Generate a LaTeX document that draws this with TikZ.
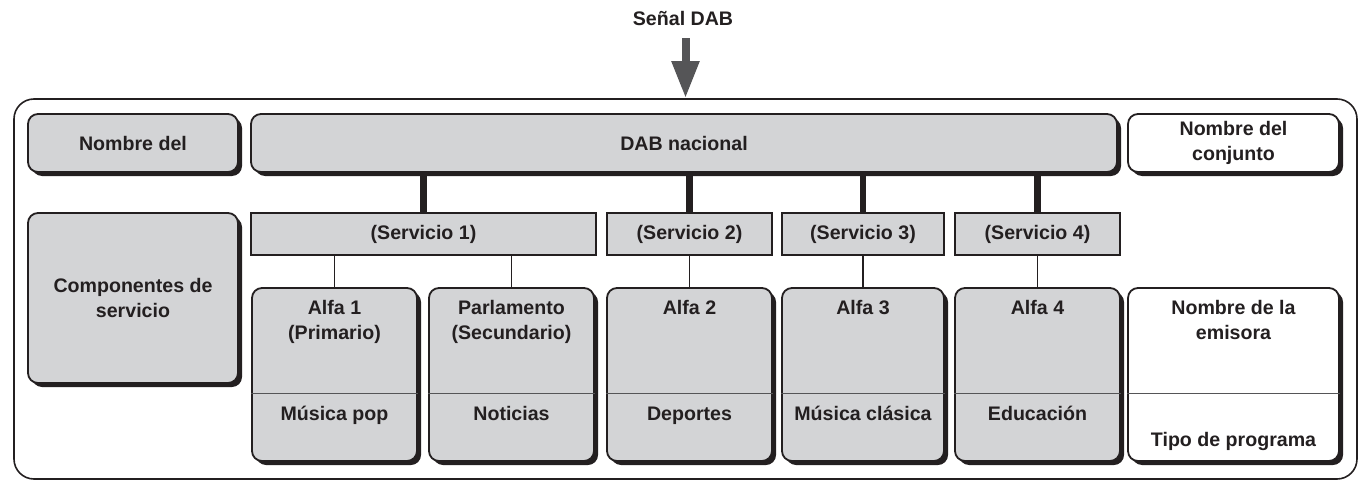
\documentclass[tikz,border=0pt]{standalone}
\usepackage{fontspec}
\setmainfont{Liberation Sans}
\usepackage{tikz}
\usetikzlibrary{shapes.geometric,arrows.meta,positioning,shadows}
\definecolor{boxgray}{RGB}{211,212,214}
\definecolor{arrowgray}{RGB}{85,85,87}
\definecolor{inkgray}{RGB}{35,31,32}

\begin{document}
\begin{tikzpicture}[x=0.5pt, y=-0.5pt, font=\bfseries\fontsize{9.8}{12.5}\selectfont, text=inkgray]
\tikzstyle{outerbox} = [rectangle, rounded corners=10pt, draw=inkgray, line width=0.8pt, minimum width=671.5pt, minimum height=190pt]
\tikzstyle{graybox} = [rectangle, rounded corners=5pt, draw=inkgray, line width=0.9pt, fill=boxgray, align=center, drop shadow={shadow xshift=2pt, shadow yshift=-2pt, fill=inkgray, opacity=1}]
\tikzstyle{whitebox} = [graybox, fill=white]
\tikzstyle{servbox} = [rectangle, draw=inkgray, line width=0.9pt, fill=boxgray, minimum height=21pt]
\tikzstyle{txt} = [inner sep=0pt, align=center]
\tikzstyle{trunk} = [line width=3.2pt, draw=inkgray]
\tikzstyle{branch} = [line width=0.9pt, draw=inkgray]
\tikzstyle{divider} = [line width=0.6pt, draw=arrowgray]
\tikzstyle{sigarrow} = [line width=4pt, draw=arrowgray, -{Triangle[length=18.5pt, width=13pt]}]

\useasboundingbox (0,0) rectangle (1359,481);

% frame and incoming signal
\node (frame) [outerbox] at (685.5,289) {};
\node (signal) at (683,18) {Señal DAB};
\draw [sigarrow, shorten <=3pt] (frame.north |- signal.south) -- (frame.north);

% top row
\node (nomdel) [graybox, minimum width=105pt, minimum height=29pt] at (133,143) {Nombre del};
\node (dabnac) [graybox, minimum width=433pt, minimum height=29pt] at (684,143) {DAB nacional};
\node (conj) [whitebox, minimum width=105.5pt, minimum height=29pt] at (1233.5,143) {Nombre del\\conjunto};

% services
\node (comp) [graybox, minimum width=105pt, minimum height=85pt] at (133,298) {Componentes de\\servicio};
\node (serv1) [servbox, minimum width=172.5pt] at (423.5,234) {(Servicio 1)};
\node (serv2) [servbox, minimum width=82.5pt] at (689.5,234) {(Servicio 2)};
\node (serv3) [servbox, minimum width=81pt] at (863,234) {(Servicio 3)};
\node (serv4) [servbox, minimum width=82.5pt] at (1037.5,234) {(Servicio 4)};

\foreach \s in {serv1,serv2,serv3,serv4}
  \draw [trunk] (\s.north) -- (\s.north |- dabnac.south);

% service components
\node (alfa1) [graybox, minimum width=82.5pt, minimum height=86.5pt] at (334.5,374.5) {};
\node (parl) [graybox, minimum width=82.5pt, minimum height=86.5pt] at (511.5,374.5) {};
\node (alfa2) [graybox, minimum width=82.5pt, minimum height=86.5pt] at (689.5,374.5) {};
\node (alfa3) [graybox, minimum width=81pt, minimum height=86.5pt] at (863,374.5) {};
\node (alfa4) [graybox, minimum width=82.5pt, minimum height=86.5pt] at (1037.5,374.5) {};
\node (emis) [whitebox, minimum width=105.5pt, minimum height=86.5pt] at (1233.5,374.5) {};

\draw [branch] (alfa1.north) -- (alfa1.north |- serv1.south);
\draw [branch] (parl.north) -- (parl.north |- serv1.south);
\draw [branch] (alfa2.north) -- (alfa2.north |- serv2.south);
\draw [branch] (alfa3.north) -- (alfa3.north |- serv3.south);
\draw [branch] (alfa4.north) -- (alfa4.north |- serv4.south);

\foreach \b in {alfa1,parl,alfa2,alfa3,alfa4,emis}
  \draw [divider] ([yshift=-53pt]\b.north west) -- ([yshift=-53pt]\b.north east);

\node (alfa1top) [txt, below=6.5pt of alfa1.north] {Alfa 1\\(Primario)};
\node (parltop) [txt, below=6.5pt of parl.north] {Parlamento\\(Secundario)};
\node (alfa2top) [txt, below=6.5pt of alfa2.north] {Alfa 2};
\node (alfa3top) [txt, below=6.5pt of alfa3.north] {Alfa 3};
\node (alfa4top) [txt, below=6.5pt of alfa4.north] {Alfa 4};
\node (emistop) [txt, below=6.5pt of emis.north] {Nombre de la\\emisora};

\node (alfa1bot) [txt, anchor=base] at ([yshift=-66.5pt]alfa1.north) {Música pop};
\node (parlbot) [txt, anchor=base] at ([yshift=-66.5pt]parl.north) {Noticias};
\node (alfa2bot) [txt, anchor=base] at ([yshift=-66.5pt]alfa2.north) {Deportes};
\node (alfa3bot) [txt, anchor=base] at ([yshift=-66.5pt]alfa3.north) {Música clásica};
\node (alfa4bot) [txt, anchor=base] at ([yshift=-66.5pt]alfa4.north) {Educación};
\node (emisbot) [txt, anchor=base] at ([yshift=-79.5pt]emis.north) {Tipo de programa};
\end{tikzpicture}
\end{document}
